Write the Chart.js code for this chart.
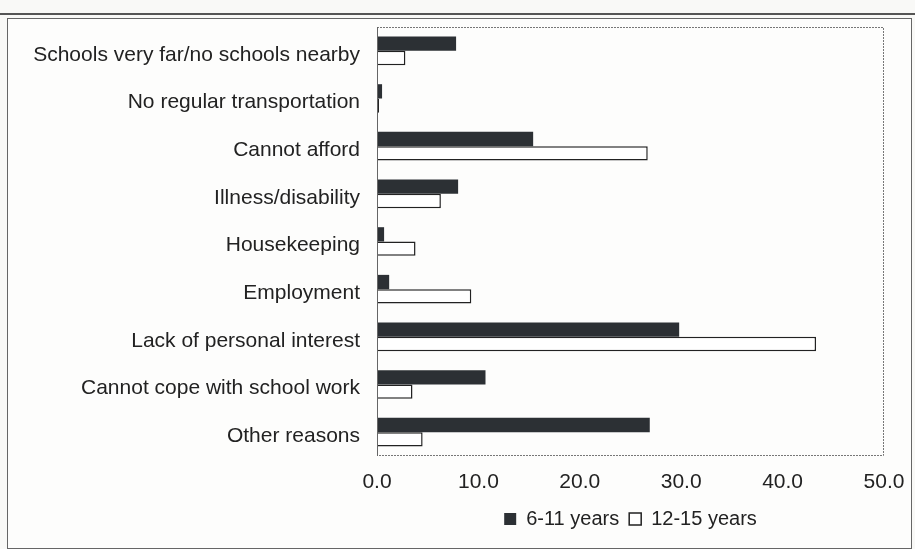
<!DOCTYPE html>
<html>
<head>
<meta charset="utf-8">
<script src="https://cdn.jsdelivr.net/npm/chart.js@4.4.0/dist/chart.umd.min.js"></script>
<style>
  html, body { margin: 0; padding: 0; background: #f9f9f7; }
  #wrap { position: relative; width: 915px; height: 549px; overflow: hidden; }
  #rule { position: absolute; left: 0; top: 13px; width: 915px; height: 2px; background: #555; }
  #frame { position: absolute; left: 7px; top: 18px; width: 903px; height: 529px; border: 1px solid #666; background: #fdfdfc; }
  canvas { position: absolute; left: 0; top: 0; }
</style>
</head>
<body>
<div id="wrap">
  <div id="rule"></div>
  <div id="frame"></div>
  <canvas id="chart" width="915" height="549"></canvas>
</div>
<script>
const categories = [
  'Schools very far/no schools nearby',
  'No regular transportation',
  'Cannot afford',
  'Illness/disability',
  'Housekeeping',
  'Employment',
  'Lack of personal interest',
  'Cannot cope with school work',
  'Other reasons'
];
const age6to11 = [7.8, 0.5, 15.4, 8.0, 0.7, 1.2, 29.8, 10.7, 26.9];
const age12to15 = [2.8, 0.2, 26.7, 6.3, 3.8, 9.3, 43.3, 3.5, 4.5];
const xTicks = [0, 10, 20, 30, 40, 50];

const FONT = 'Liberation Sans, Arial, sans-serif';
const INK = '#222';

// dashed box round the plot area, solid line on the left
const plotFrame = {
  id: 'plotFrame',
  afterDraw(chart) {
    const { ctx, chartArea: a } = chart;
    ctx.save();
    ctx.strokeStyle = '#777';
    ctx.lineWidth = 1;
    ctx.setLineDash([2, 1]);
    ctx.beginPath();
    ctx.moveTo(a.left, a.top + 0.5);
    ctx.lineTo(a.right - 0.5, a.top + 0.5);
    ctx.lineTo(a.right - 0.5, a.bottom - 0.5);
    ctx.lineTo(a.left, a.bottom - 0.5);
    ctx.stroke();
    ctx.setLineDash([]);
    ctx.strokeStyle = '#666';
    ctx.beginPath();
    ctx.moveTo(a.left + 0.5, a.top);
    ctx.lineTo(a.left + 0.5, a.bottom);
    ctx.stroke();
    ctx.restore();
  }
};

new Chart(document.getElementById('chart'), {
  type: 'bar',
  data: {
    labels: categories,
    datasets: [
      { label: '6-11 years', data: age6to11, backgroundColor: '#2c3034', borderColor: '#2c3034', borderWidth: 0 },
      { label: '12-15 years', data: age12to15, backgroundColor: '#ffffff', borderColor: '#222', borderWidth: 1.5 }
    ]
  },
  options: {
    indexAxis: 'y',
    responsive: false,
    animation: false,
    categoryPercentage: 0.6,
    barPercentage: 1.0,
    layout: { padding: { left: 0, right: 31, top: 27, bottom: 10 } },
    scales: {
      x: {
        min: 0, max: 50,
        afterBuildTicks(scale) { scale.ticks = xTicks.map(v => ({ value: v })); },
        afterFit(scale) {
          scale.height = 43;
          scale.paddingLeft = 0;
          scale.paddingRight = 0;
        },
        grid: { display: false, drawTicks: false },
        border: { display: false },
        ticks: {
          padding: 14,
          color: INK,
          font: { family: FONT, size: 21 },
          callback: v => Number(v).toFixed(1)
        }
      },
      y: {
        afterFit(scale) {
          scale.width = 377;
          scale.paddingTop = 0;
          scale.paddingBottom = 0;
        },
        grid: { display: false, drawTicks: false },
        border: { display: false },
        ticks: { padding: 17, labelOffset: 4, color: INK, font: { family: FONT, size: 21 } }
      }
    },
    plugins: {
      tooltip: { enabled: false },
      legend: {
        position: 'bottom',
        fullSize: false,
        labels: {
          color: INK,
          font: { family: FONT, size: 20 },
          boxWidth: 12,
          boxHeight: 12,
          padding: 10
        }
      }
    }
  },
  plugins: [plotFrame]
});
</script>
</body>
</html>
